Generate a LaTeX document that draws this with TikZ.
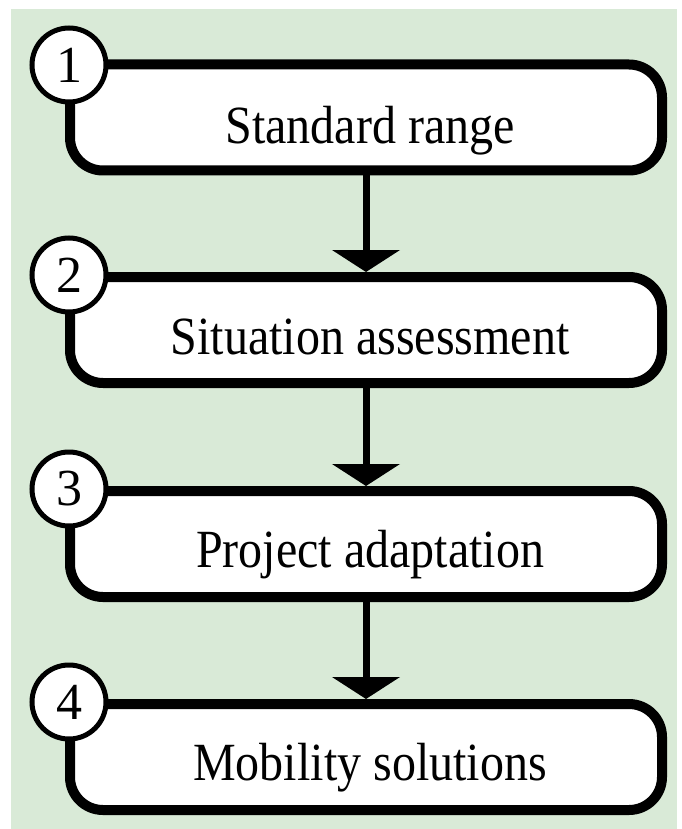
\documentclass[tikz,border=0pt]{standalone}
\usepackage{fontspec}
\usepackage{graphicx}
\setmainfont{Liberation Serif}
\usetikzlibrary{arrows.meta}
\definecolor{bggreen}{RGB}{217,234,215}
\newcommand{\tallfont}[1]{\scalebox{1}[1.12]{#1}}
\begin{document}
\begin{tikzpicture}[x=1pt,y=-1pt,
  stepbox/.style={draw=black, line width=10pt, fill=white, rounded corners=33pt,
    minimum width=592pt, minimum height=106pt, inner sep=0pt},
  numcirc/.style={draw=black, line width=5pt, fill=white, circle,
    minimum size=74pt, inner sep=0pt, font=\fontsize{52}{54}\selectfont},
  steplabel/.style={anchor=base, inner sep=0pt, font=\fontsize{48}{50}\selectfont},
  flow/.style={line width=7pt, -{Triangle[width=67pt,length=22pt]}}]
\useasboundingbox (0,0) rectangle (681,829);
\fill[white] (0,0) rectangle (681,829);
\fill[bggreen] (11,9) rectangle (677,829);
% boxes
\node[stepbox] (b1) at (366,117.5) {};
\node[stepbox] (b2) at (366,330) {};
\node[stepbox] (b3) at (366,544) {};
\node[stepbox] (b4) at (366,757) {};
% labels
\node[steplabel] (t1) at (370,144) {\tallfont{Standard range}};
\node[steplabel] (t2) at (370,354) {\tallfont{Situation assessment}};
\node[steplabel] (t3) at (370,567) {\tallfont{Project adaptation}};
\node[steplabel] (t4) at (370,780) {\tallfont{Mobility solutions}};
% circles
\node[numcirc] (c1) at (69,65) {1};
\node[numcirc] (c2) at (69,275) {2};
\node[numcirc] (c3) at (69,489) {3};
\node[numcirc] (c4) at (69,702) {4};
% arrows
\draw[flow] (b1.south) -- (b2.north);
\draw[flow] (b2.south) -- (b3.north);
\draw[flow] (b3.south) -- (b4.north);
\end{tikzpicture}
\end{document}
